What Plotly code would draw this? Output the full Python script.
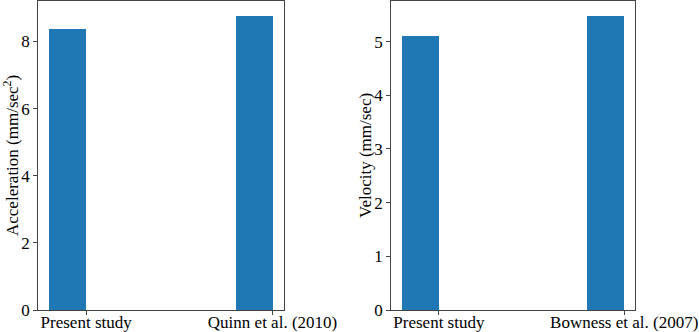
import plotly.graph_objects as go
from plotly.subplots import make_subplots

# Data
acc_labels = ["Present study", "Quinn et al. (2010)"]
acc_values = [8.38, 8.78]
vel_labels = ["Present study", "Bowness et al. (2007)"]
vel_values = [5.12, 5.49]
acc_ticks = [0, 2, 4, 6, 8]
vel_ticks = [0, 1, 2, 3, 4, 5]
bar_pos = [0, 1]
label_pos = [0.1, 1.1]

BAR = "#1f77b4"
LINE = "#444444"
FONT = dict(family="Liberation Serif, Times New Roman, serif", size=17, color="black")

fig = make_subplots(rows=1, cols=2)
fig.add_trace(go.Bar(x=bar_pos, y=acc_values, width=0.2, marker=dict(color=BAR, line=dict(width=0)),
                     showlegend=False, hoverinfo="skip"), row=1, col=1)
fig.add_trace(go.Bar(x=bar_pos, y=vel_values, width=0.2, marker=dict(color=BAR, line=dict(width=0)),
                     showlegend=False, hoverinfo="skip"), row=1, col=2)

axis_common = dict(showgrid=False, zeroline=False, showline=True, mirror=True,
                   linecolor=LINE, linewidth=1, ticks="outside", ticklen=3.5,
                   tickcolor=LINE, tickfont=FONT, automargin=False, ticklabeloverflow="allow")

fig.update_layout(
    width=699, height=332,
    margin=dict(l=0, r=0, t=0, b=0),
    paper_bgcolor="white", plot_bgcolor="white",
    font=FONT,
    xaxis=dict(domain=[37.7/699, 283.7/699], range=[-0.16, 1.16], tickvals=label_pos,
               ticktext=acc_labels, ticklabelstandoff=-7, **axis_common),
    xaxis2=dict(domain=[390.7/699, 635.3/699], range=[-0.16, 1.16], tickvals=label_pos,
                ticktext=vel_labels, ticklabelstandoff=-7, **axis_common),
    yaxis=dict(domain=[22/332, 1 - 0.5/332], range=[0, max(acc_values) * 1.05],
               tickvals=acc_ticks, **axis_common),
    yaxis2=dict(domain=[22/332, 1 - 0.5/332], range=[0, max(vel_values) * 1.05],
                tickvals=vel_ticks, **axis_common),
    bargap=0,
)

fig.add_annotation(text="Acceleration (mm/sec<sup>2</sup>)", textangle=-90,
                   xref="paper", yref="paper", x=11/699, y=(332-156)/332,
                   xanchor="center", yanchor="middle", showarrow=False, font=FONT)
fig.add_annotation(text="Velocity (mm/sec)", textangle=-90,
                   xref="paper", yref="paper", x=365/699, y=(332-156)/332,
                   xanchor="center", yanchor="middle", showarrow=False, font=FONT)

fig.write_html("out.html", config={"displayModeBar": False},
               post_script="document.body.style.margin='0';document.body.style.overflow='hidden';")
